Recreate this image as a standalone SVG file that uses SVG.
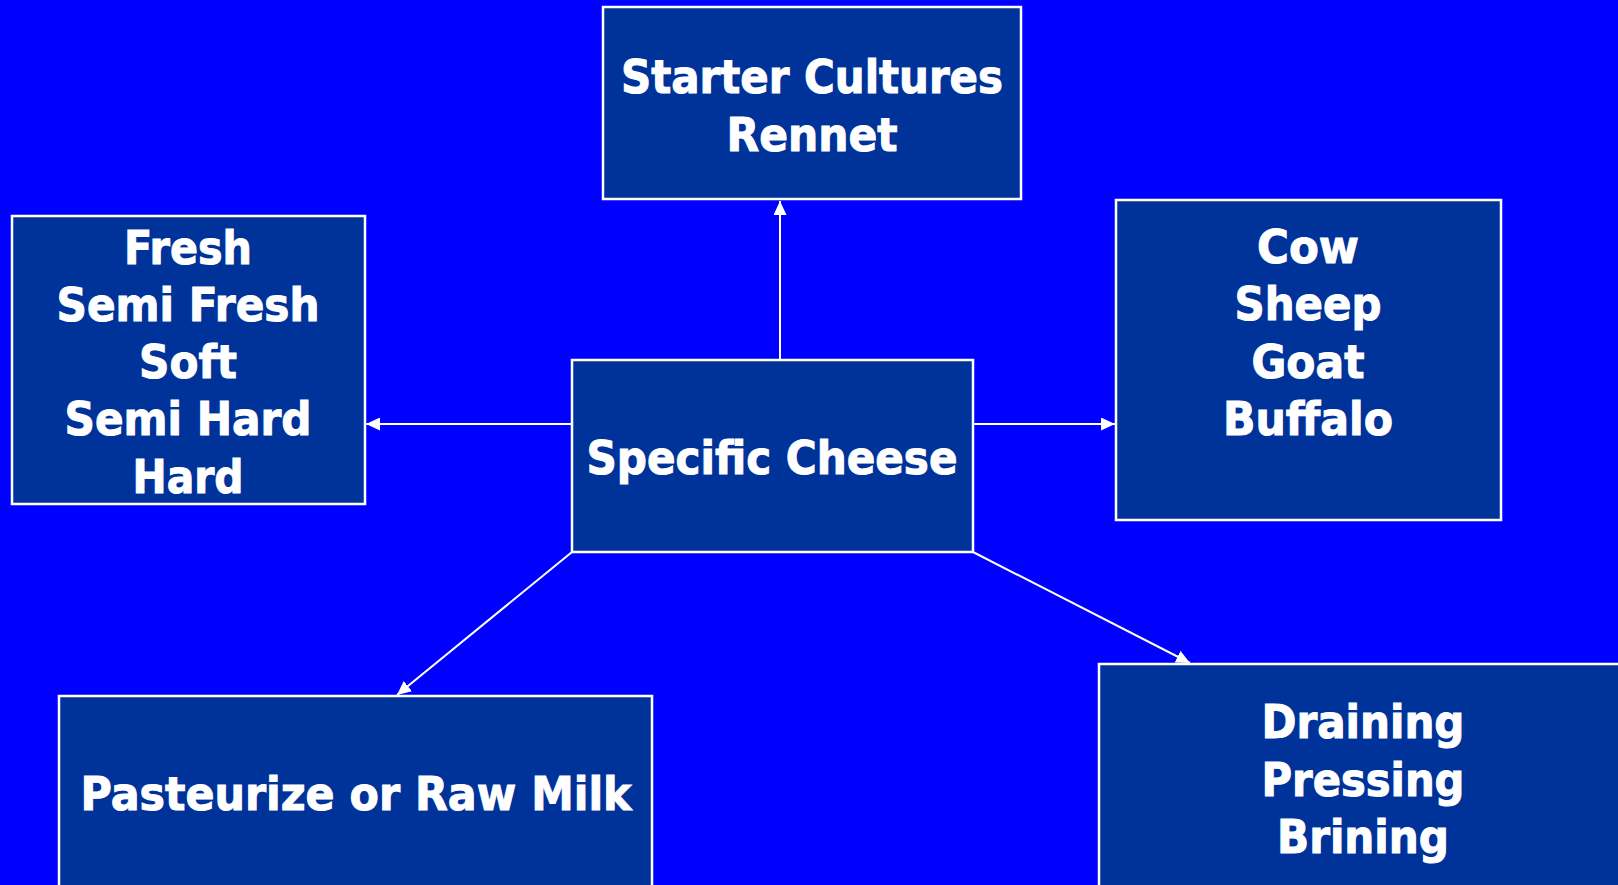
<svg xmlns="http://www.w3.org/2000/svg" width="1618" height="885" viewBox="0 0 1618 885">
<style>
.box{fill:#003399;stroke:#ffffff;stroke-width:2.5}
.t{fill:#ffffff;stroke:#ffffff;stroke-width:1;font-family:"DejaVu Sans",sans-serif;font-weight:bold;font-size:46px;text-anchor:middle}
.c{stroke:#ffffff;stroke-width:2;fill:none;marker-end:url(#ah)}
</style>
<defs>
<marker id="ah" markerUnits="userSpaceOnUse" markerWidth="15" markerHeight="13" refX="14" refY="6.5" orient="auto">
<path d="M0,0 L14,6.5 L0,13 z" fill="#ffffff"/>
</marker>
</defs>
<rect width="1618" height="885" fill="#0000ff"/>
<g id="connectors">
<line class="c" x1="780" y1="360" x2="780" y2="201"/>
<line class="c" x1="572" y1="424" x2="366" y2="424"/>
<line class="c" x1="973" y1="424" x2="1115" y2="424"/>
<line class="c" x1="572" y1="552" x2="397" y2="695"/>
<line class="c" x1="973" y1="552" x2="1190" y2="663"/>
</g>
<g id="starter">
<rect class="box" x="603" y="7" width="418" height="192"/>
<text class="t" x="812" y="93" textLength="382" lengthAdjust="spacingAndGlyphs">Starter Cultures</text>
<text class="t" x="812" y="151" textLength="171" lengthAdjust="spacingAndGlyphs">Rennet</text>
</g>
<g id="texture">
<rect class="box" x="12" y="216" width="353" height="288"/>
<text class="t" x="188" y="264" textLength="128" lengthAdjust="spacingAndGlyphs">Fresh</text>
<text class="t" x="188" y="321" textLength="263" lengthAdjust="spacingAndGlyphs">Semi Fresh</text>
<text class="t" x="188" y="378" textLength="98" lengthAdjust="spacingAndGlyphs">Soft</text>
<text class="t" x="188" y="435" textLength="247" lengthAdjust="spacingAndGlyphs">Semi Hard</text>
<text class="t" x="188" y="493" textLength="111" lengthAdjust="spacingAndGlyphs">Hard</text>
</g>
<g id="cheese">
<rect class="box" x="572" y="360" width="401" height="192"/>
<text class="t" x="772" y="474" textLength="371" lengthAdjust="spacingAndGlyphs">Specific Cheese</text>
</g>
<g id="animals">
<rect class="box" x="1116" y="200" width="385" height="320"/>
<text class="t" x="1308" y="263" textLength="102" lengthAdjust="spacingAndGlyphs">Cow</text>
<text class="t" x="1308" y="320" textLength="147" lengthAdjust="spacingAndGlyphs">Sheep</text>
<text class="t" x="1308" y="378" textLength="113" lengthAdjust="spacingAndGlyphs">Goat</text>
<text class="t" x="1308" y="435" textLength="170" lengthAdjust="spacingAndGlyphs">Buffalo</text>
</g>
<g id="milk">
<rect class="box" x="59" y="696" width="593" height="220"/>
<text class="t" x="356" y="810" textLength="551" lengthAdjust="spacingAndGlyphs">Pasteurize or Raw Milk</text>
</g>
<g id="process">
<rect class="box" x="1099" y="664" width="540" height="250"/>
<text class="t" x="1363" y="738" textLength="203" lengthAdjust="spacingAndGlyphs">Draining</text>
<text class="t" x="1363" y="796" textLength="203" lengthAdjust="spacingAndGlyphs">Pressing</text>
<text class="t" x="1363" y="853" textLength="172" lengthAdjust="spacingAndGlyphs">Brining</text>
</g>
</svg>
